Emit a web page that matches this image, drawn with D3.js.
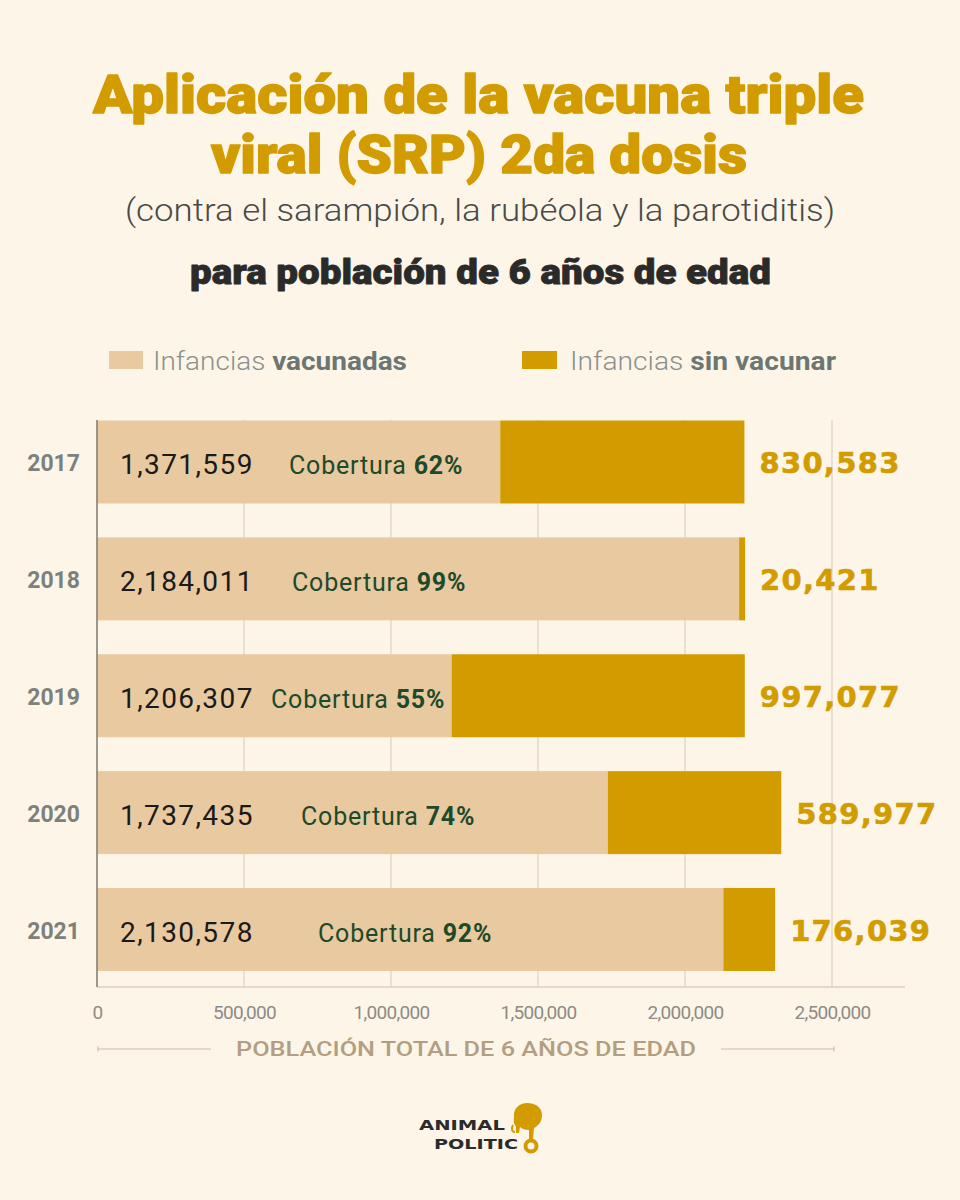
<!DOCTYPE html>
<html>
<head>
<meta charset="utf-8">
<script src="https://cdn.jsdelivr.net/npm/d3@7"></script>
<style>
  html, body { margin: 0; padding: 0; background: #fdf6e8; }
  svg { display: block; }
</style>
</head>
<body>
<svg id="chart" width="960" height="1200"></svg>
<script>
// ---- data ----
const years = ["2017", "2018", "2019", "2020", "2021"];
const vacunadas = [1371559, 2184011, 1206307, 1737435, 2130578];
const sinVacunar = [830583, 20421, 997077, 589977, 176039];
const cobertura = [62, 99, 55, 74, 92];
const xTicks = [0, 500000, 1000000, 1500000, 2000000, 2500000];
const xTickLabels = ["0", "500,000", "1,000,000", "1,500,000", "2,000,000", "2,500,000"];
const seriesNames = ["vacunadas", "sin vacunar"];

// ---- style ----
const BG = "#fdf6e8";
const LIGHT = "#e8c9a0";
const DARK = "#d29c00";
const GOLD = "#d29c00";
const GREEN = "#1d4a2b";

const svg = d3.select("#chart");
svg.append("rect").attr("width", 960).attr("height", 1200).attr("fill", BG);

// ---- titles ----
function fitText(sel, len) {
  sel.attr("textLength", len).attr("lengthAdjust", "spacingAndGlyphs");
  return sel;
}
fitText(svg.append("text").attr("x", 93).attr("y", 113)
  .attr("font-family", "Roboto, sans-serif").attr("font-weight", 900)
  .attr("font-size", 54).attr("fill", GOLD)
  .attr("stroke", GOLD).attr("stroke-width", 1.4).attr("stroke-linejoin", "round")
  .text("Aplicación de la vacuna triple"), 771);
fitText(svg.append("text").attr("x", 211).attr("y", 173)
  .attr("font-family", "Roboto, sans-serif").attr("font-weight", 900)
  .attr("font-size", 54).attr("fill", GOLD)
  .attr("stroke", GOLD).attr("stroke-width", 1.4).attr("stroke-linejoin", "round")
  .text("viral (SRP) 2da dosis"), 536);
fitText(svg.append("text").attr("x", 125).attr("y", 221)
  .attr("font-family", "Roboto, sans-serif").attr("font-weight", 300)
  .attr("font-size", 31).attr("fill", "#4a4a48")
  .text("(contra el sarampión, la rubéola y la parotiditis)"), 710);
fitText(svg.append("text").attr("x", 190).attr("y", 284)
  .attr("font-family", "Roboto, sans-serif").attr("font-weight", 900)
  .attr("font-size", 35).attr("fill", "#2a2a2a")
  .attr("stroke", "#2a2a2a").attr("stroke-width", 0.8).attr("stroke-linejoin", "round")
  .text("para población de 6 años de edad"), 581);

// ---- legend ----
const legendItems = [
  { sw: [109, 351, 34, 18], color: LIGHT, x: 153, len: 254, name: seriesNames[0] },
  { sw: [522, 351, 35, 18], color: DARK, x: 570, len: 266, name: seriesNames[1] }
];
legendItems.forEach(d => {
  svg.append("rect").attr("x", d.sw[0]).attr("y", d.sw[1]).attr("width", d.sw[2]).attr("height", d.sw[3]).attr("fill", d.color);
  const t = svg.append("text").attr("x", d.x).attr("y", 370)
    .attr("font-family", "Roboto, sans-serif").attr("font-size", 25).attr("fill", "#8b908d");
  t.append("tspan").attr("font-weight", 300).text("Infancias ");
  t.append("tspan").attr("font-weight", 700).attr("fill", "#6e7673").text(d.name);
  fitText(t, d.len);
});

// ---- scales ----
const x = d3.scaleLinear().domain([0, 2500000]).range([97, 832]);
const y = d3.scaleBand().domain(years).range([420.5, 971]).paddingInner(0.29).paddingOuter(0);

const rows = years.map((yr, i) => ({ year: yr, v: vacunadas[i], s: sinVacunar[i], c: cobertura[i], i }));

// gridlines
svg.append("g").selectAll("line").data(xTicks.slice(1)).join("line")
  .attr("x1", d => x(d)).attr("x2", d => x(d))
  .attr("y1", 420).attr("y2", 987)
  .attr("stroke", "#e2d8c9").attr("stroke-width", 1.5);

// horizontal axis line
svg.append("line").attr("x1", x(0)).attr("x2", 905).attr("y1", 987).attr("y2", 987)
  .attr("stroke", "#d8cfc0").attr("stroke-width", 1.5);

// bars
const bars = svg.append("g");
bars.selectAll("rect.v").data(rows).join("rect").attr("class", "v")
  .attr("x", x(0)).attr("y", d => y(d.year))
  .attr("width", d => x(d.v) - x(0)).attr("height", y.bandwidth())
  .attr("fill", LIGHT);
bars.selectAll("rect.s").data(rows).join("rect").attr("class", "s")
  .attr("x", d => x(d.v)).attr("y", d => y(d.year))
  .attr("width", d => x(d.v + d.s) - x(d.v)).attr("height", y.bandwidth())
  .attr("fill", DARK);

// vertical axis line
svg.append("line").attr("x1", x(0)).attr("x2", x(0)).attr("y1", 420).attr("y2", 987)
  .attr("stroke", "#7d7870").attr("stroke-width", 1.5);

// year labels
svg.append("g").selectAll("text").data(rows).join("text")
  .attr("x", 80).attr("y", d => y(d.year) + y.bandwidth() / 2 + 9)
  .attr("text-anchor", "end")
  .attr("font-family", "Roboto, sans-serif").attr("font-weight", 700)
  .attr("font-size", 23).attr("fill", "#7c817c")
  .text(d => d.year);

// value labels inside bars
const fmt = d3.format(",");
svg.append("g").selectAll("text").data(rows).join("text")
  .attr("x", 120).attr("y", d => y(d.year) + y.bandwidth() / 2 + 12)
  .attr("font-family", "Roboto, sans-serif").attr("font-weight", 400)
  .attr("font-size", 28).attr("letter-spacing", 1.4).attr("fill", "#1a1a1a")
  .text(d => fmt(d.v));

// cobertura labels (layout x positions)
const cobX = [289, 292, 271, 301, 318];
const cob = svg.append("g").selectAll("text").data(rows).join("text")
  .attr("x", d => cobX[d.i]).attr("y", d => y(d.year) + y.bandwidth() / 2 + 12)
  .attr("font-family", "Roboto, sans-serif")
  .attr("font-size", 25).attr("letter-spacing", 0.8).attr("fill", GREEN);
cob.append("tspan").attr("font-weight", 400).text("Cobertura ");
cob.append("tspan").attr("font-weight", 700).text(d => d.c + "%");

// sin vacunar labels
svg.append("g").selectAll("text").data(rows).join("text")
  .attr("x", d => x(d.v + d.s) + 15).attr("y", d => y(d.year) + y.bandwidth() / 2 + 11)
  .attr("font-family", "'DejaVu Sans', sans-serif").attr("font-weight", 700)
  .attr("font-size", 29).attr("letter-spacing", 1.3).attr("fill", GOLD)
  .attr("stroke", GOLD).attr("stroke-width", 0.6)
  .text(d => fmt(d.s));

// x axis tick labels
const axis = d3.axisBottom(x).tickValues(xTicks).tickSize(0).tickPadding(0)
  .tickFormat((d, i) => xTickLabels[i]);
const ag = svg.append("g").attr("transform", "translate(0,1019)").call(axis);
ag.select(".domain").remove();
ag.selectAll("text").attr("dy", 0)
  .attr("font-family", "Roboto, sans-serif").attr("font-size", 19)
  .attr("fill", "#8c8b86").attr("letter-spacing", -0.7);

// axis title with side rules
fitText(svg.append("text").attr("x", 466).attr("y", 1056).attr("text-anchor", "middle")
  .attr("font-family", "Roboto, sans-serif").attr("font-weight", 500)
  .attr("font-size", 21).attr("fill", "#b39e82")
  .text("POBLACIÓN TOTAL DE 6 AÑOS DE EDAD"), 460);
const rule = svg.append("g").attr("stroke", "#c9bba6").attr("stroke-width", 1.2);
[[98, 211], [721, 834]].forEach(([a, b]) => {
  rule.append("line").attr("x1", a).attr("x2", b).attr("y1", 1049).attr("y2", 1049);
});
[98, 834].forEach(px => rule.append("line").attr("x1", px).attr("x2", px).attr("y1", 1046.5).attr("y2", 1051.5));

// logo
const logo = svg.append("g");
logo.append("text").attr("x", 419).attr("y", 1130)
  .attr("font-family", "'DejaVu Sans', sans-serif").attr("font-weight", 700)
  .attr("font-size", 14.5).attr("fill", "#2b2b2b").attr("textLength", 86).attr("lengthAdjust", "spacingAndGlyphs")
  .text("ANIMAL");
logo.append("text").attr("x", 434).attr("y", 1149)
  .attr("font-family", "'DejaVu Sans', sans-serif").attr("font-weight", 700)
  .attr("font-size", 14.5).attr("fill", "#2b2b2b").attr("textLength", 84).attr("lengthAdjust", "spacingAndGlyphs")
  .text("POLITIC");
const el = logo.append("g").attr("transform", "translate(511,1102)");
el.append("path")
  .attr("d", "M3,15 C2,6 9,1 16,1 C24,1 31,5 31,13 C31,20 27,24 23,26 L22,37 L18,37 L18,28 C14,28 11,27 9,25 L8,31 L5,31 L5,24 C2,22 3,18 3,15 Z")
  .attr("fill", GOLD);
el.append("path").attr("d", "M2,23 C0,27 1,30 4,30").attr("stroke", GOLD).attr("stroke-width", 2).attr("fill", "none");
el.append("circle").attr("cx", 20).attr("cy", 44).attr("r", 5.5)
  .attr("fill", "none").attr("stroke", GOLD).attr("stroke-width", 4);
</script>
</body>
</html>
